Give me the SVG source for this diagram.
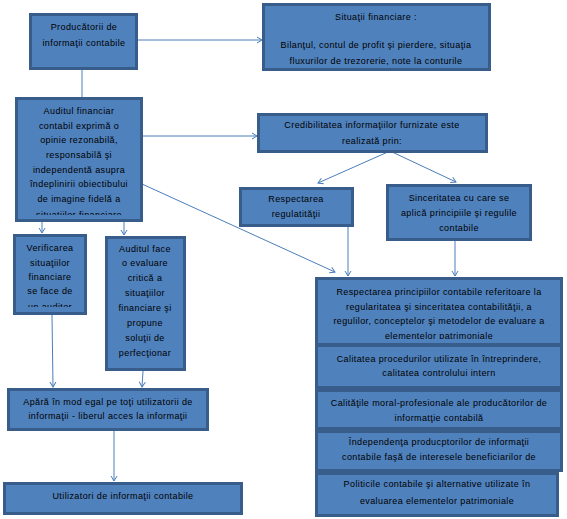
<svg xmlns="http://www.w3.org/2000/svg" width="567" height="519" viewBox="0 0 567 519">
<style>
.box{fill:#4f81bd;stroke:#385d8a;stroke-width:3}
.t{font-family:"Liberation Sans",Arial,sans-serif;font-size:9px;letter-spacing:0.4px;fill:#000;text-anchor:middle}
.c{stroke:#4a7ebb;stroke-width:1;fill:none}
</style>
<defs>
<marker id="a" markerUnits="userSpaceOnUse" markerWidth="8" markerHeight="8" refX="6" refY="4" orient="auto">
<path d="M1,1 L6,4 L1,7" fill="none" stroke="#4a7ebb" stroke-width="1"/>
</marker>
<clipPath id="c3"><rect x="16" y="98" width="126" height="117"/></clipPath>
<clipPath id="c8"><rect x="14" y="235" width="72" height="72"/></clipPath>
<clipPath id="c7"><rect x="316" y="278" width="246" height="61"/></clipPath>
</defs>
<rect width="567" height="519" fill="#fff"/>
<g id="connectors">
<line class="c" x1="138" y1="40" x2="262" y2="40" marker-end="url(#a)"/>
<line class="c" x1="82" y1="70" x2="82" y2="97"/>
<line class="c" x1="143" y1="136" x2="257" y2="136" marker-end="url(#a)"/>
<line class="c" x1="390" y1="151" x2="318" y2="183" marker-end="url(#a)"/>
<line class="c" x1="390" y1="151" x2="456" y2="182" marker-end="url(#a)"/>
<line class="c" x1="142" y1="184" x2="335" y2="272" marker-end="url(#a)"/>
<line class="c" x1="348" y1="227" x2="348" y2="276" marker-end="url(#a)"/>
<line class="c" x1="455" y1="241" x2="455" y2="276" marker-end="url(#a)"/>
<line class="c" x1="42" y1="222" x2="42" y2="233" marker-end="url(#a)"/>
<line class="c" x1="124" y1="222" x2="124" y2="235" marker-end="url(#a)"/>
<line class="c" x1="52" y1="315" x2="53" y2="387" marker-end="url(#a)"/>
<line class="c" x1="143" y1="371" x2="142" y2="387" marker-end="url(#a)"/>
<line class="c" x1="114" y1="431" x2="114" y2="481" marker-end="url(#a)"/>
</g>
<g id="producatorii">
<rect class="box" x="30.5" y="14.5" width="106" height="54"/>
<text class="t" x="84" y="30">Producătorii de</text>
<text class="t" x="84" y="46">informaţii contabile</text>
</g>
<g id="situatii">
<rect class="box" x="263.5" y="4.5" width="226" height="65"/>
<text class="t" x="376" y="20">Situaţii financiare :</text>
<text class="t" x="376" y="48">Bilanţul, contul de profit şi pierdere, situaţia</text>
<text class="t" x="376" y="64">fluxurilor de trezorerie, note la conturile</text>
</g>
<g id="auditul">
<rect class="box" x="16.5" y="98.5" width="125" height="122"/>
<g clip-path="url(#c3)">
<text class="t" x="79" y="114">Auditul financiar</text>
<text class="t" x="79" y="128.7">contabil exprimă o</text>
<text class="t" x="79" y="143.3">opinie rezonabilă,</text>
<text class="t" x="79" y="158">responsabilă şi</text>
<text class="t" x="79" y="172.7">independentă asupra</text>
<text class="t" x="79" y="187.3">îndeplinirii obiectibului</text>
<text class="t" x="79" y="202">de imagine fidelă a</text>
<text class="t" x="79" y="217.5">situaţiilor financiare</text>
</g>
</g>
<g id="credibilitatea">
<rect class="box" x="258.5" y="114.5" width="228" height="37"/>
<text class="t" x="372" y="128">Credibilitatea informaţiilor furnizate este</text>
<text class="t" x="372" y="144">realizată prin:</text>
</g>
<g id="respectarea">
<rect class="box" x="240.5" y="188.5" width="112" height="37"/>
<text class="t" x="296" y="202">Respectarea</text>
<text class="t" x="296" y="217">regulatităţii</text>
</g>
<g id="sinceritatea">
<rect class="box" x="387.5" y="185.5" width="143" height="54"/>
<text class="t" x="459" y="201">Sinceritatea cu care se</text>
<text class="t" x="459" y="216">aplică principiile şi regulile</text>
<text class="t" x="459" y="231">contabile</text>
</g>
<g id="verificarea">
<rect class="box" x="14.5" y="235.5" width="71" height="78"/>
<g clip-path="url(#c8)">
<text class="t" x="50" y="251">Verificarea</text>
<text class="t" x="50" y="266">situaţiilor</text>
<text class="t" x="50" y="280">financiare</text>
<text class="t" x="50" y="294">se face de</text>
<text class="t" x="50" y="309.5">un auditor</text>
</g>
</g>
<g id="auditul-face">
<rect class="box" x="106.5" y="237.5" width="78" height="132"/>
<text class="t" x="145" y="252">Auditul face</text>
<text class="t" x="145" y="266">o evaluare</text>
<text class="t" x="145" y="281">critică a</text>
<text class="t" x="145" y="296">situaţiilor</text>
<text class="t" x="145" y="311">financiare şi</text>
<text class="t" x="145" y="326">propune</text>
<text class="t" x="145" y="341">soluţii de</text>
<text class="t" x="145" y="356">perfecţionar</text>
</g>
<g id="principii">
<rect class="box" x="316.5" y="278.5" width="245" height="66"/>
<g clip-path="url(#c7)">
<text class="t" x="439" y="295">Respectarea principiilor contabile referitoare la</text>
<text class="t" x="439" y="309.5">regularitatea şi sinceritatea contabilităţii, a</text>
<text class="t" x="439" y="324">regulilor, conceptelor şi metodelor de evaluare a</text>
<text class="t" x="439" y="339">elementelor patrimoniale</text>
</g>
</g>
<g id="calitatea">
<rect class="box" x="316.5" y="345.5" width="245" height="42"/>
<text class="t" x="439" y="362">Calitatea procedurilor utilizate în întreprindere,</text>
<text class="t" x="439" y="376">calitatea controlului intern</text>
</g>
<g id="calitatile">
<rect class="box" x="316.5" y="390.5" width="245" height="38"/>
<text class="t" x="439" y="406">Calităţile moral-profesionale ale producătorilor de</text>
<text class="t" x="439" y="421">informatţie contabilă</text>
</g>
<g id="independenta">
<rect class="box" x="316.5" y="431.5" width="245" height="39"/>
<text class="t" x="439" y="445">Îndependenţa producptorilor de informaţii</text>
<text class="t" x="439" y="460">contabile faşă de interesele beneficiarilor de</text>
</g>
<g id="politicile">
<rect class="box" x="316.5" y="473.5" width="241" height="42"/>
<text class="t" x="437" y="487">Politicile contabile şi alternative utilizate în</text>
<text class="t" x="437" y="504">evaluarea elementelor patrimoniale</text>
</g>
<g id="apara">
<rect class="box" x="8.5" y="389.5" width="199" height="40"/>
<text class="t" x="108" y="405">Apără în mod egal pe toţi utilizatorii de</text>
<text class="t" x="108" y="419">informaţii - liberul acces la informaţii</text>
</g>
<g id="utilizatori">
<rect class="box" x="4.5" y="483.5" width="237" height="30"/>
<text class="t" x="123" y="499">Utilizatori de informaţii contabile</text>
</g>
</svg>
